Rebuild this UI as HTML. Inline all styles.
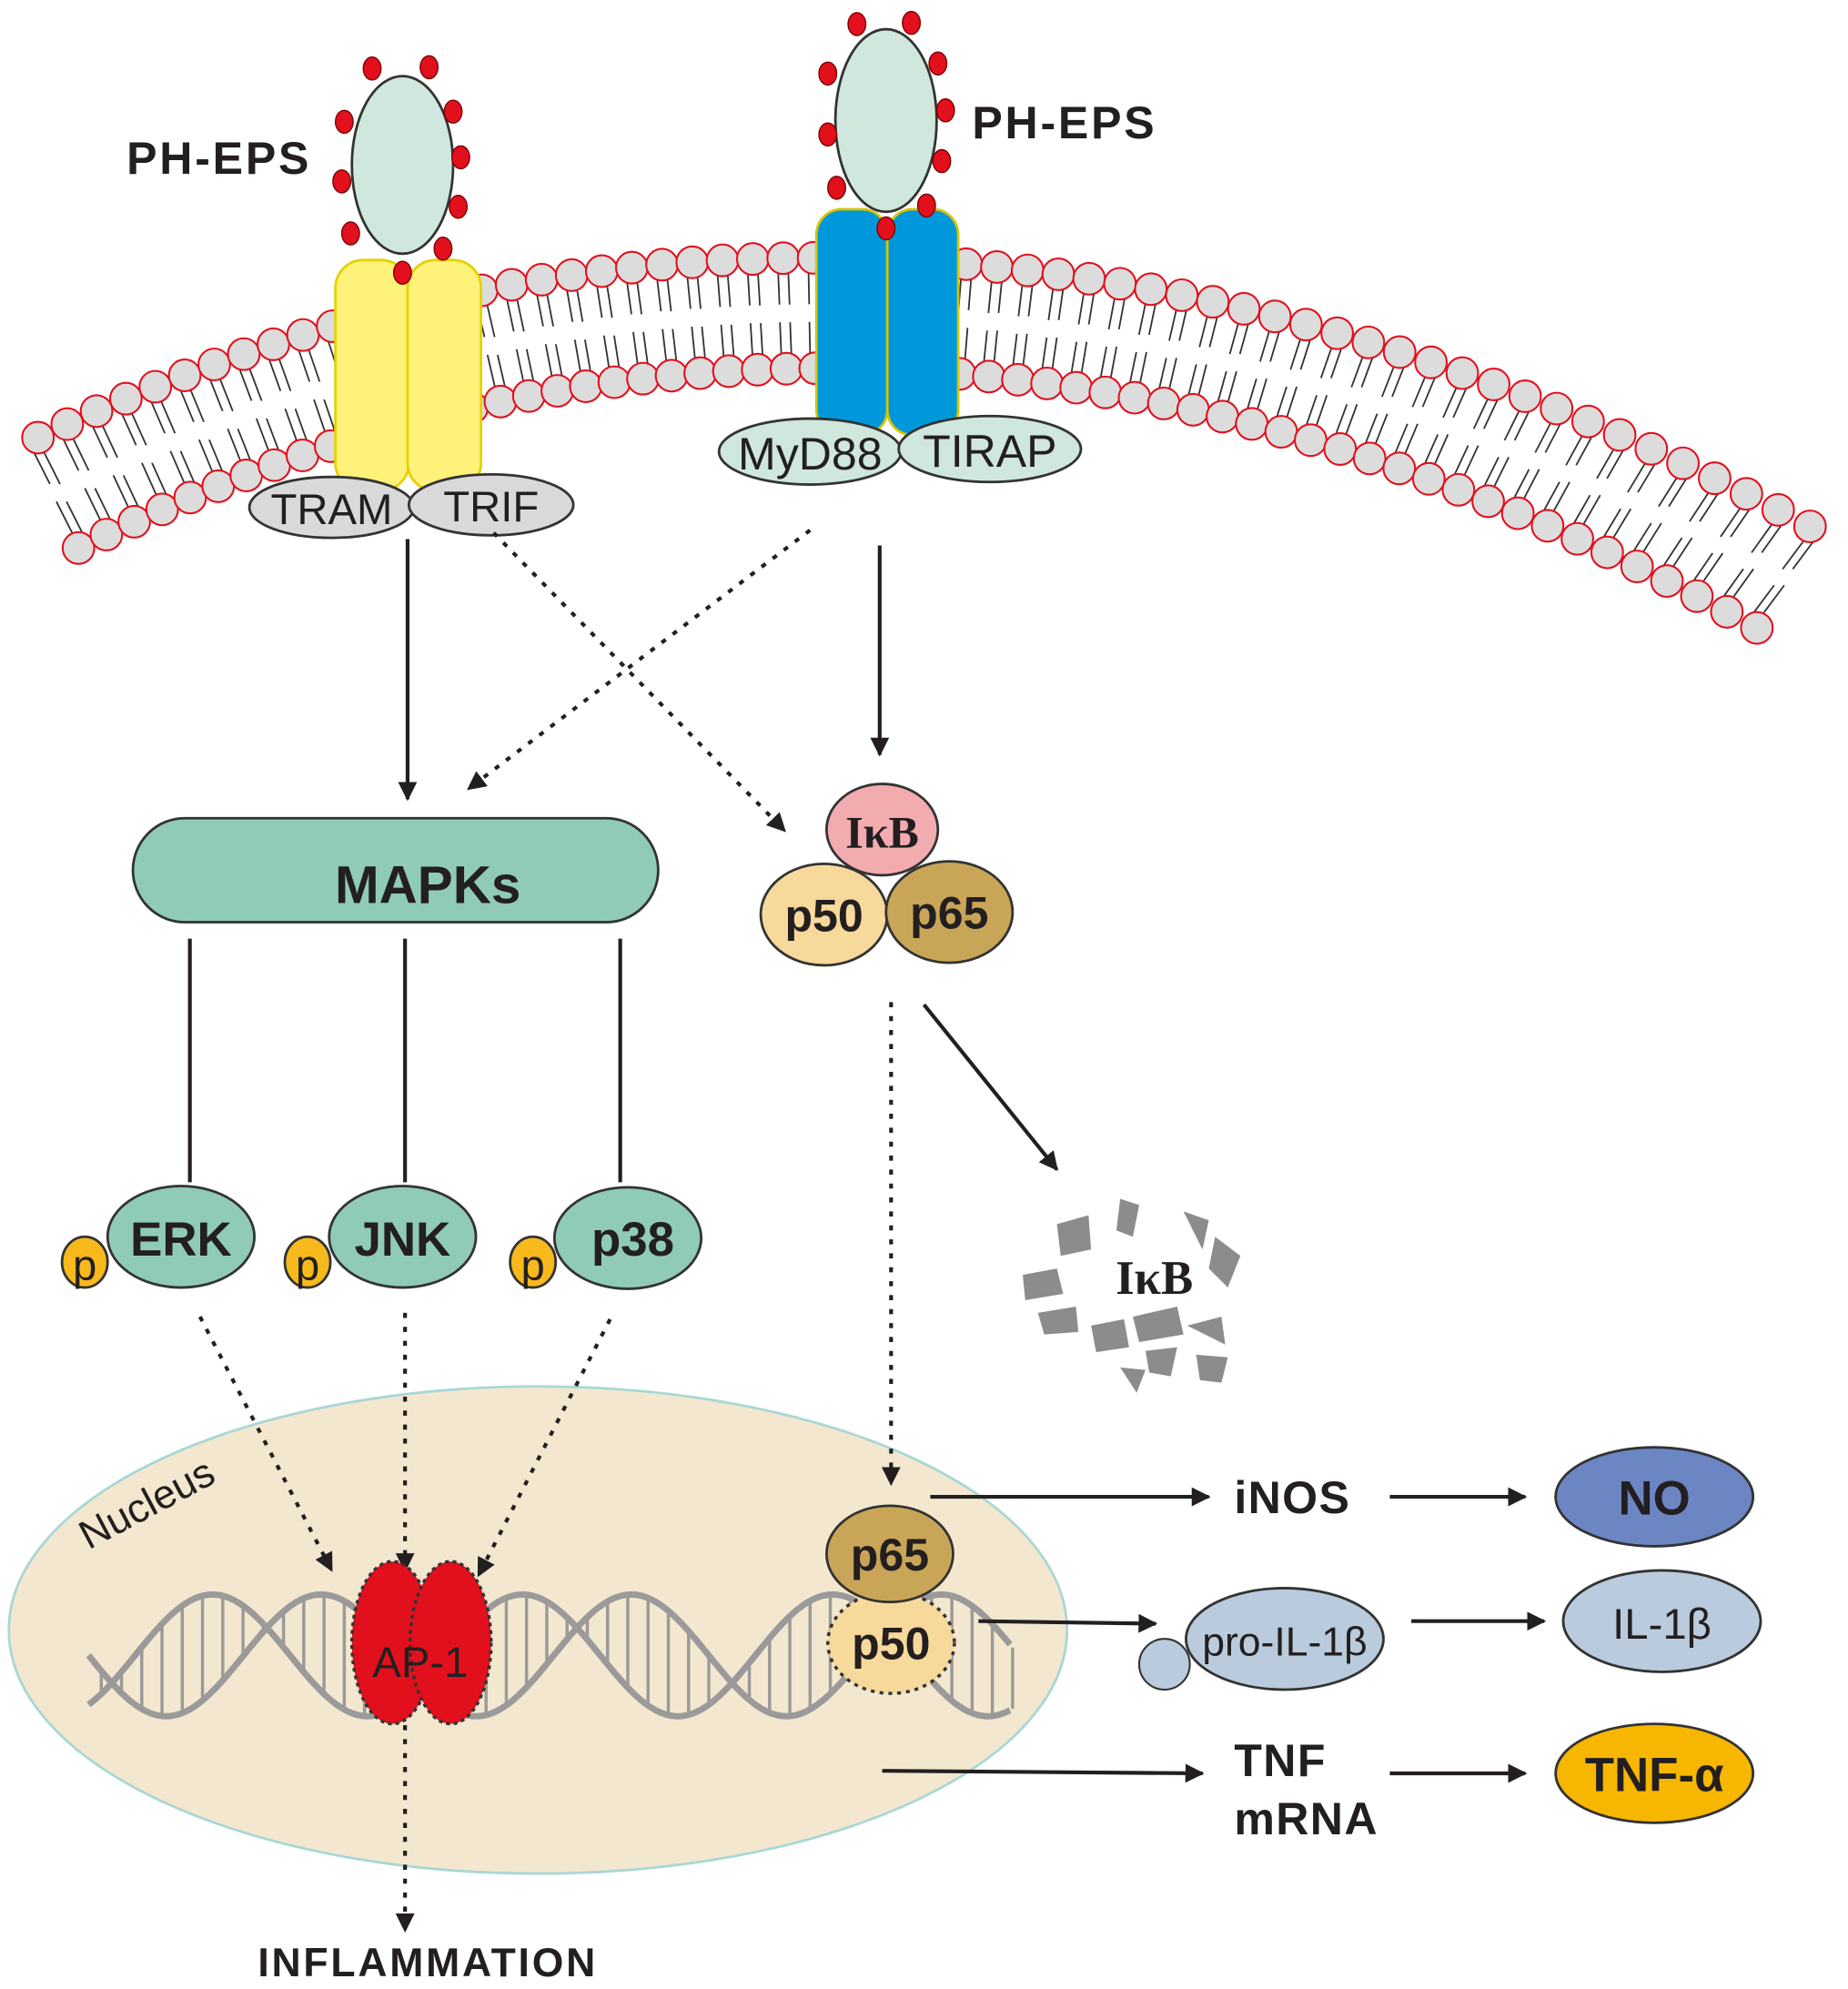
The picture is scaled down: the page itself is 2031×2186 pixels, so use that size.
<!DOCTYPE html>
<html><head><meta charset="utf-8">
<style>html,body{margin:0;padding:0;background:#fff}svg{display:block}
text{font-family:"Liberation Sans",sans-serif;font-weight:bold;fill:#231f20}</style></head>
<body>
<svg id="s" width="2031" height="2186" viewBox="0 0 1460 1568" preserveAspectRatio="none" xmlns="http://www.w3.org/2000/svg">
<defs>
<marker id="ah" viewBox="0 0 10 10" refX="9" refY="5" markerWidth="5" markerHeight="5" orient="auto" markerUnits="strokeWidth"><path d="M0,0 L10,5 L0,10 z" fill="#231f20"/></marker>
</defs>
<g id="mem"></g>
<ellipse cx="425" cy="1285" rx="418" ry="192" fill="#f3e8cf" stroke="#a9d7d5" stroke-width="2"/>
<text x="70" y="1222" font-size="32" style="font-weight:normal" transform="rotate(-28 70 1222)">Nucleus</text>
<g id="dna" fill="none" stroke="#9a9a9a" stroke-width="5"></g>
<rect x="265" y="205" width="58" height="182" rx="22" fill="#fff27a" stroke="#e6d100" stroke-width="2"/>
<rect x="322" y="205" width="58" height="182" rx="22" fill="#fff27a" stroke="#e6d100" stroke-width="2"/>
<rect x="645" y="165" width="56" height="178" rx="20" fill="#0098da" stroke="#d7c400" stroke-width="2"/>
<rect x="701" y="165" width="56" height="178" rx="20" fill="#0098da" stroke="#d7c400" stroke-width="2"/>
<ellipse cx="318" cy="130" rx="40" ry="70" fill="#cfe7dc" stroke="#333" stroke-width="2"/>
<ellipse cx="700" cy="95" rx="40" ry="72" fill="#cfe7dc" stroke="#333" stroke-width="2"/>
<g fill="#e2101d" stroke="#7a0000" stroke-width="1">
<ellipse cx="294" cy="54" rx="7" ry="9"/><ellipse cx="339" cy="53" rx="7" ry="9"/><ellipse cx="358" cy="88" rx="7" ry="9"/><ellipse cx="364" cy="124" rx="7" ry="9"/><ellipse cx="362" cy="163" rx="7" ry="9"/><ellipse cx="350" cy="196" rx="7" ry="9"/><ellipse cx="318" cy="215" rx="7" ry="9"/><ellipse cx="277" cy="184" rx="7" ry="9"/><ellipse cx="270" cy="143" rx="7" ry="9"/><ellipse cx="272" cy="96" rx="7" ry="9"/>
<ellipse cx="677" cy="19" rx="7" ry="9"/><ellipse cx="720" cy="18" rx="7" ry="9"/><ellipse cx="741" cy="50" rx="7" ry="9"/><ellipse cx="747" cy="87" rx="7" ry="9"/><ellipse cx="744" cy="127" rx="7" ry="9"/><ellipse cx="732" cy="162" rx="7" ry="9"/><ellipse cx="700" cy="180" rx="7" ry="9"/><ellipse cx="661" cy="148" rx="7" ry="9"/><ellipse cx="654" cy="106" rx="7" ry="9"/><ellipse cx="654" cy="58" rx="7" ry="9"/>
</g>
<text x="100" y="137" font-size="36" letter-spacing="2">PH-EPS</text>
<text x="768" y="109" font-size="36" letter-spacing="2">PH-EPS</text>
<ellipse cx="262" cy="400" rx="65" ry="24" fill="#d9d9d9" stroke="#333" stroke-width="2"/>
<ellipse cx="388" cy="398" rx="65" ry="24" fill="#d9d9d9" stroke="#333" stroke-width="2"/>
<text x="262" y="413" font-size="34" text-anchor="middle" style="font-weight:normal">TRAM</text>
<text x="388" y="411" font-size="34" text-anchor="middle" style="font-weight:normal">TRIF</text>
<ellipse cx="640" cy="356" rx="72" ry="26" fill="#cfe7dc" stroke="#333" stroke-width="2"/>
<ellipse cx="782" cy="354" rx="72" ry="26" fill="#cfe7dc" stroke="#333" stroke-width="2"/>
<text x="640" y="370" font-size="36" text-anchor="middle" style="font-weight:normal">MyD88</text>
<text x="782" y="368" font-size="36" text-anchor="middle" style="font-weight:normal">TIRAP</text>
<g stroke="#231f20" stroke-width="3" fill="none">
<line x1="322" y1="425" x2="322" y2="630" marker-end="url(#ah)"/>
<line x1="695" y1="430" x2="695" y2="595" marker-end="url(#ah)"/>
<line x1="640" y1="418" x2="370" y2="622" stroke-dasharray="4 7" marker-end="url(#ah)"/>
<line x1="390" y1="420" x2="620" y2="655" stroke-dasharray="4 7" marker-end="url(#ah)"/>
<line x1="150" y1="740" x2="150" y2="932"/>
<line x1="320" y1="740" x2="320" y2="932"/>
<line x1="490" y1="740" x2="490" y2="932"/>
<line x1="158" y1="1038" x2="262" y2="1238" stroke-dasharray="4 7" marker-end="url(#ah)"/>
<line x1="320" y1="1035" x2="320" y2="1238" stroke-dasharray="4 7" marker-end="url(#ah)"/>
<line x1="482" y1="1040" x2="378" y2="1242" stroke-dasharray="4 7" marker-end="url(#ah)"/>
<line x1="704" y1="790" x2="704" y2="1170" stroke-dasharray="4 7" marker-end="url(#ah)"/>
<line x1="730" y1="792" x2="835" y2="922" marker-end="url(#ah)"/>
<line x1="320" y1="1360" x2="320" y2="1522" stroke-dasharray="4 7" marker-end="url(#ah)"/>
<line x1="735" y1="1180" x2="955" y2="1180" marker-end="url(#ah)"/>
<line x1="1098" y1="1180" x2="1205" y2="1180" marker-end="url(#ah)"/>
<line x1="773" y1="1278" x2="913" y2="1280" marker-end="url(#ah)"/>
<line x1="1115" y1="1278" x2="1220" y2="1278" marker-end="url(#ah)"/>
<line x1="697" y1="1396" x2="950" y2="1398" marker-end="url(#ah)"/>
<line x1="1098" y1="1398" x2="1205" y2="1398" marker-end="url(#ah)"/>
</g>
<rect x="105" y="645" width="415" height="82" rx="41" fill="#8fcbb8" stroke="#333" stroke-width="2"/>
<text x="338" y="712" font-size="42" text-anchor="middle">MAPKs</text>
<g stroke="#333" stroke-width="2">
<ellipse cx="143" cy="975" rx="58" ry="40" fill="#8fcbb8"/>
<ellipse cx="318" cy="975" rx="58" ry="40" fill="#8fcbb8"/>
<ellipse cx="496" cy="976" rx="58" ry="40" fill="#8fcbb8"/>
<ellipse cx="67" cy="995" rx="18" ry="20" fill="#f7b91c"/>
<ellipse cx="243" cy="995" rx="18" ry="20" fill="#f7b91c"/>
<ellipse cx="421" cy="995" rx="18" ry="20" fill="#f7b91c"/>
</g>
<text x="143" y="990" font-size="38" text-anchor="middle">ERK</text>
<text x="318" y="990" font-size="38" text-anchor="middle">JNK</text>
<text x="500" y="990" font-size="38" text-anchor="middle">p38</text>
<text x="67" y="1009" font-size="34" text-anchor="middle" style="font-weight:normal">p</text>
<text x="243" y="1009" font-size="34" text-anchor="middle" style="font-weight:normal">p</text>
<text x="421" y="1009" font-size="34" text-anchor="middle" style="font-weight:normal">p</text>
<g stroke="#333" stroke-width="2">
<ellipse cx="697" cy="654" rx="44" ry="36" fill="#f2acb0"/>
<ellipse cx="651" cy="721" rx="50" ry="40" fill="#f6d99b"/>
<ellipse cx="750" cy="719" rx="50" ry="40" fill="#c9a558"/>
</g>
<text x="697" y="668" font-size="36" text-anchor="middle" style="font-family:'Liberation Serif',serif">IκB</text>
<text x="651" y="734" font-size="36" text-anchor="middle">p50</text>
<text x="750" y="732" font-size="36" text-anchor="middle">p65</text>
<g fill="#8c8c8c">
<polygon points="835,965 860,958 862,985 838,990"/><polygon points="885,945 900,950 895,975 882,970"/><polygon points="935,955 955,962 950,985"/>
<polygon points="808,1005 835,1000 840,1020 810,1025"/><polygon points="960,975 980,990 970,1015 955,1000"/><polygon points="820,1035 850,1030 852,1050 825,1052"/>
<polygon points="862,1045 888,1040 892,1062 866,1066"/><polygon points="895,1038 930,1030 935,1052 900,1058"/><polygon points="938,1045 965,1038 968,1060"/>
<polygon points="905,1065 930,1062 925,1085 908,1082"/><polygon points="885,1078 905,1080 898,1098"/><polygon points="945,1068 970,1070 965,1090 948,1088"/>
</g>
<text x="912" y="1020" font-size="38" text-anchor="middle" style="font-family:'Liberation Serif',serif">IκB</text>
<ellipse cx="704" cy="1295" rx="50" ry="40" fill="#f6d99b" stroke="#333" stroke-width="2.5" stroke-dasharray="3 4"/>
<ellipse cx="703" cy="1225" rx="50" ry="38" fill="#c9a558" stroke="#333" stroke-width="2"/>
<text x="703" y="1238" font-size="36" text-anchor="middle">p65</text>
<text x="704" y="1308" font-size="36" text-anchor="middle">p50</text>
<ellipse cx="310" cy="1295" rx="32" ry="64" fill="#e2101d" stroke="#333" stroke-width="2.5" stroke-dasharray="3 3"/>
<ellipse cx="356" cy="1295" rx="32" ry="64" fill="#e2101d" stroke="#333" stroke-width="2.5" stroke-dasharray="3 3"/>
<text x="332" y="1322" font-size="34" text-anchor="middle" style="font-weight:normal">AP-1</text>
<text x="338" y="1558" font-size="32" text-anchor="middle" letter-spacing="2">INFLAMMATION</text>
<text x="975" y="1193" font-size="36" letter-spacing="1">iNOS</text>
<ellipse cx="1307" cy="1180" rx="78" ry="39" fill="#6c86c4" stroke="#333" stroke-width="2"/>
<text x="1307" y="1194" font-size="38" text-anchor="middle">NO</text>
<circle cx="920" cy="1312" r="20" fill="#b9cbdc" stroke="#333" stroke-width="1.5"/>
<ellipse cx="1015" cy="1292" rx="78" ry="40" fill="#b9cbdc" stroke="#333" stroke-width="2"/>
<text x="1015" y="1305" font-size="32" text-anchor="middle" style="font-weight:normal">pro-IL-1β</text>
<ellipse cx="1313" cy="1278" rx="78" ry="40" fill="#b9cbdc" stroke="#333" stroke-width="2"/>
<text x="1313" y="1292" font-size="34" text-anchor="middle" style="font-weight:normal">IL-1β</text>
<text x="975" y="1400" font-size="36" letter-spacing="1">TNF</text>
<text x="975" y="1446" font-size="36" letter-spacing="1">mRNA</text>
<ellipse cx="1307" cy="1398" rx="78" ry="39" fill="#f7b600" stroke="#333" stroke-width="2"/>
<text x="1307" y="1412" font-size="38" text-anchor="middle">TNF-α</text>
</svg>
<script>
(function(){
var g=document.getElementById("mem");
function q(p0,c,p2,t){var u=1-t;return [u*u*p0[0]+2*u*t*c[0]+t*t*p2[0],u*u*p0[1]+2*u*t*c[1]+t*t*p2[1]];}
var T0=[30,345],TC=[700,30],T2=[1430,415],B0=[62,432],BC=[700,120],B2=[1388,495];
var N=58,s="";
for(var i=0;i<=N;i++){var t=i/N,a=q(T0,TC,T2,t),b=q(B0,BC,B2,t);
 var dx=b[0]-a[0],dy=b[1]-a[1];
 for(var k=-1;k<=1;k+=2){var o=k*4;
 s+='<line x1="'+(a[0]+o)+'" y1="'+(a[1]+10)+'" x2="'+(a[0]+o+dx*0.42)+'" y2="'+(a[1]+dy*0.42)+'" stroke="#333" stroke-width="1.3"/>';
 s+='<line x1="'+(b[0]+o)+'" y1="'+(b[1]-10)+'" x2="'+(b[0]+o-dx*0.42)+'" y2="'+(b[1]-dy*0.42)+'" stroke="#333" stroke-width="1.3"/>';}
}
for(var i=0;i<=N;i++){var t=i/N,a=q(T0,TC,T2,t),b=q(B0,BC,B2,t);
 s+='<circle cx="'+a[0]+'" cy="'+a[1]+'" r="12.5" fill="#dcdcdc" stroke="#e2101d" stroke-width="1.5"/>';
 s+='<circle cx="'+b[0]+'" cy="'+b[1]+'" r="12.5" fill="#dcdcdc" stroke="#e2101d" stroke-width="1.5"/>';}
g.innerHTML=s;
var d=document.getElementById("dna"),h="";
var x0=70,x1=800,p=245,A=48,cy=1305;
function path(ph){var r="";for(var x=x0;x<=x1;x+=4){var y=cy+A*Math.sin((x-x0)/p*2*Math.PI+ph);r+=(x==x0?"M":"L")+x+","+y;}return r;}
h+='<path d="'+path(0)+'"/><path d="'+path(2.2)+'"/>';
for(var x=x0+10;x<=x1;x+=16){var y1=cy+A*Math.sin((x-x0)/p*2*Math.PI),y2=cy+A*Math.sin((x-x0)/p*2*Math.PI+2.2);
 h+='<line x1="'+x+'" y1="'+y1+'" x2="'+x+'" y2="'+y2+'" stroke-width="2.5"/>';}
d.innerHTML=h;
})();
</script>
</body></html>
